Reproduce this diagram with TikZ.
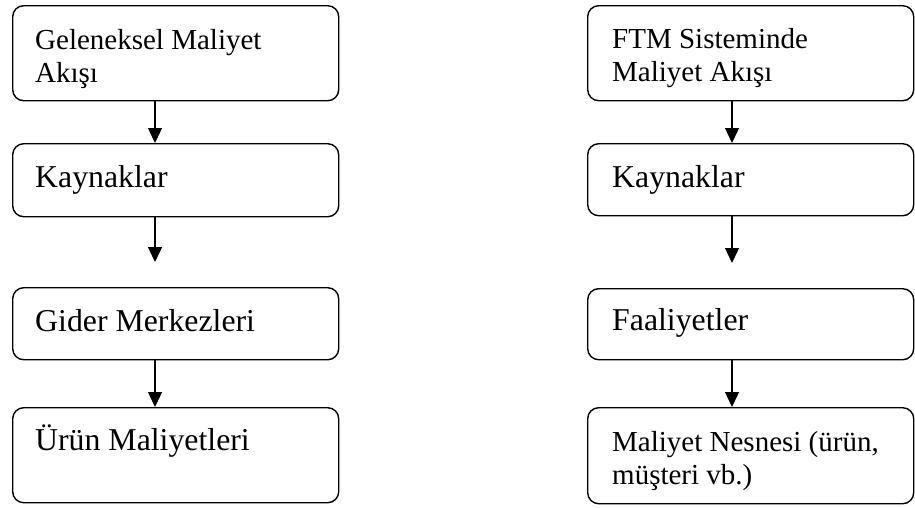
\documentclass[tikz,border=0pt]{standalone}
\usepackage{fontspec}
\setmainfont{Liberation Serif}
\usetikzlibrary{arrows.meta,calc}
\begin{document}
\begin{tikzpicture}[x=1pt,y=-1pt,
  box/.style={draw, line width=1.4pt, rounded corners=11pt, minimum width=326pt, anchor=north west, inner sep=0pt},
  small/.style={anchor=base west, inner sep=0pt, align=left, font=\fontsize{29}{32.5}\selectfont},
  big/.style={anchor=base west, inner sep=0pt, align=left, font=\fontsize{31.8}{34}\selectfont},
  arr/.style={line width=1.3pt, -{Triangle[width=14pt,length=15pt]}}]
\useasboundingbox (0,0) rectangle (915,507);
% left column
\node[box, minimum height=95pt] (L1) at (12,5) {};
\node[box, minimum height=73pt] (L2) at (12,143) {};
\node[box, minimum height=72pt] (L3) at (12,287) {};
\node[box, minimum height=95pt] (L4) at (12,407) {};
\node[small] (tL1) at (35,82) {Geleneksel Maliyet\\Akışı};
\node[big] (tL2) at (35,187) {Kaynaklar};
\node[big] (tL3) at (35,331) {Gider Merkezleri};
\node[big] (tL4) at (35,450) {Ürün Maliyetleri};
% right column
\node[box, minimum height=95pt] (R1) at (587,5) {};
\node[box, minimum height=72pt] (R2) at (587,143) {};
\node[box, minimum height=71pt] (R3) at (587,288) {};
\node[box, minimum height=96pt] (R4) at (587,407) {};
\node[small] (tR1) at (612,81) {FTM Sisteminde\\Maliyet Akışı};
\node[big] (tR2) at (612,187) {Kaynaklar};
\node[big] (tR3) at (612,330) {Faaliyetler};
\node[small] (tR4) at (612,484) {Maliyet Nesnesi (ürün,\\müşteri vb.)};
% arrow axes and free ends
\coordinate (axL) at (155,0);
\coordinate (axR) at (732,0);
\coordinate (eL2) at (155,262);
\coordinate (eR2) at (732,263);
% left arrows
\draw[arr] (L1.south -| axL) -- (L2.north -| axL);
\draw[arr] (L2.south -| axL) -- (eL2);
\draw[arr] (L3.south -| axL) -- (L4.north -| axL);
% right arrows
\draw[arr] (R1.south -| axR) -- (R2.north -| axR);
\draw[arr] (R2.south -| axR) -- (eR2);
\draw[arr] (R3.south -| axR) -- (R4.north -| axR);
\end{tikzpicture}
\end{document}
